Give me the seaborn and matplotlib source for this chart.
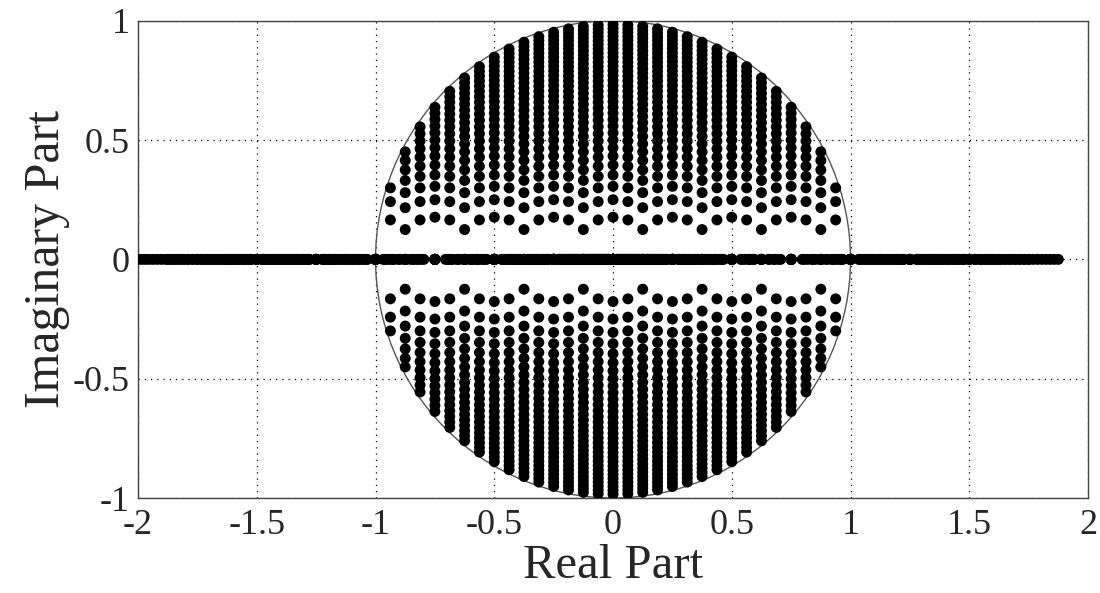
import numpy as np
import pandas as pd
import matplotlib
matplotlib.use('Agg')
import matplotlib.pyplot as plt
import seaborn as sns

# quantized coefficients of z^2 - 2*x*z + c (step 1/16 on x, step 1/32 on c)
x_values = [-1.0, -0.9375, -0.875, -0.8125, -0.75, -0.6875, -0.625, -0.5625,
            -0.5, -0.4375, -0.375, -0.3125, -0.25, -0.1875, -0.125, -0.0625,
            0.0, 0.0625, 0.125, 0.1875, 0.25, 0.3125, 0.375, 0.4375,
            0.5, 0.5625, 0.625, 0.6875, 0.75, 0.8125, 0.875, 0.9375]
c_values = [0.0, 0.03125, 0.0625, 0.09375, 0.125, 0.15625, 0.1875, 0.21875,
            0.25, 0.28125, 0.3125, 0.34375, 0.375, 0.40625, 0.4375, 0.46875,
            0.5, 0.53125, 0.5625, 0.59375, 0.625, 0.65625, 0.6875, 0.71875,
            0.75, 0.78125, 0.8125, 0.84375, 0.875, 0.90625, 0.9375, 0.96875]

x_ticks = [-2, -1.5, -1, -0.5, 0, 0.5, 1, 1.5, 2]
x_tick_labels = ['-2', '-1.5', '-1', '-0.5', '0', '0.5', '1', '1.5', '2']
y_ticks = [-1, -0.5, 0, 0.5, 1]
y_tick_labels = ['-1', '-0.5', '0', '0.5', '1']

rows = []
for x in x_values:
    for c in c_values:
        for r in np.roots([1.0, -2.0 * x, c]):
            rows.append({'re': np.real(r), 'im': np.imag(r)})
poles = pd.DataFrame(rows)

sns.set_style('white')
plt.rcParams['font.family'] = ['Liberation Serif', 'DejaVu Serif']
plt.rcParams['axes.unicode_minus'] = False

fig = plt.figure(figsize=(11, 5.93), dpi=100)
ax = fig.add_axes([0.1255, 0.1602, 0.8636, 0.8048])

sns.scatterplot(data=poles, x='re', y='im', ax=ax, color='black', s=62,
                edgecolor='none', linewidth=0, zorder=3)

ax.add_patch(plt.Circle((0, 0), 1, fill=False, color='#555555', lw=1, zorder=2))

ax.set_xlim(-2, 2)
ax.set_ylim(-1, 1)
ax.set_xticks(x_ticks)
ax.set_xticklabels(x_tick_labels)
ax.set_yticks(y_ticks)
ax.set_yticklabels(y_tick_labels)
ax.grid(True, linestyle=(0, (1, 4)), color='black', lw=0.9)
ax.tick_params(direction='in', length=6, width=0.8, color='#333333',
               labelsize=26)
ax.tick_params(axis='x', pad=8)
ax.tick_params(axis='y', pad=6)
for sp in ax.spines.values():
    sp.set_color('#444444')
    sp.set_linewidth(1.0)

ax.set_xlabel('Real Part', fontsize=35, labelpad=1)
ax.set_ylabel('Imaginary Part', fontsize=36, labelpad=2)

plt.savefig('out.png', dpi=100)
plt.close()
